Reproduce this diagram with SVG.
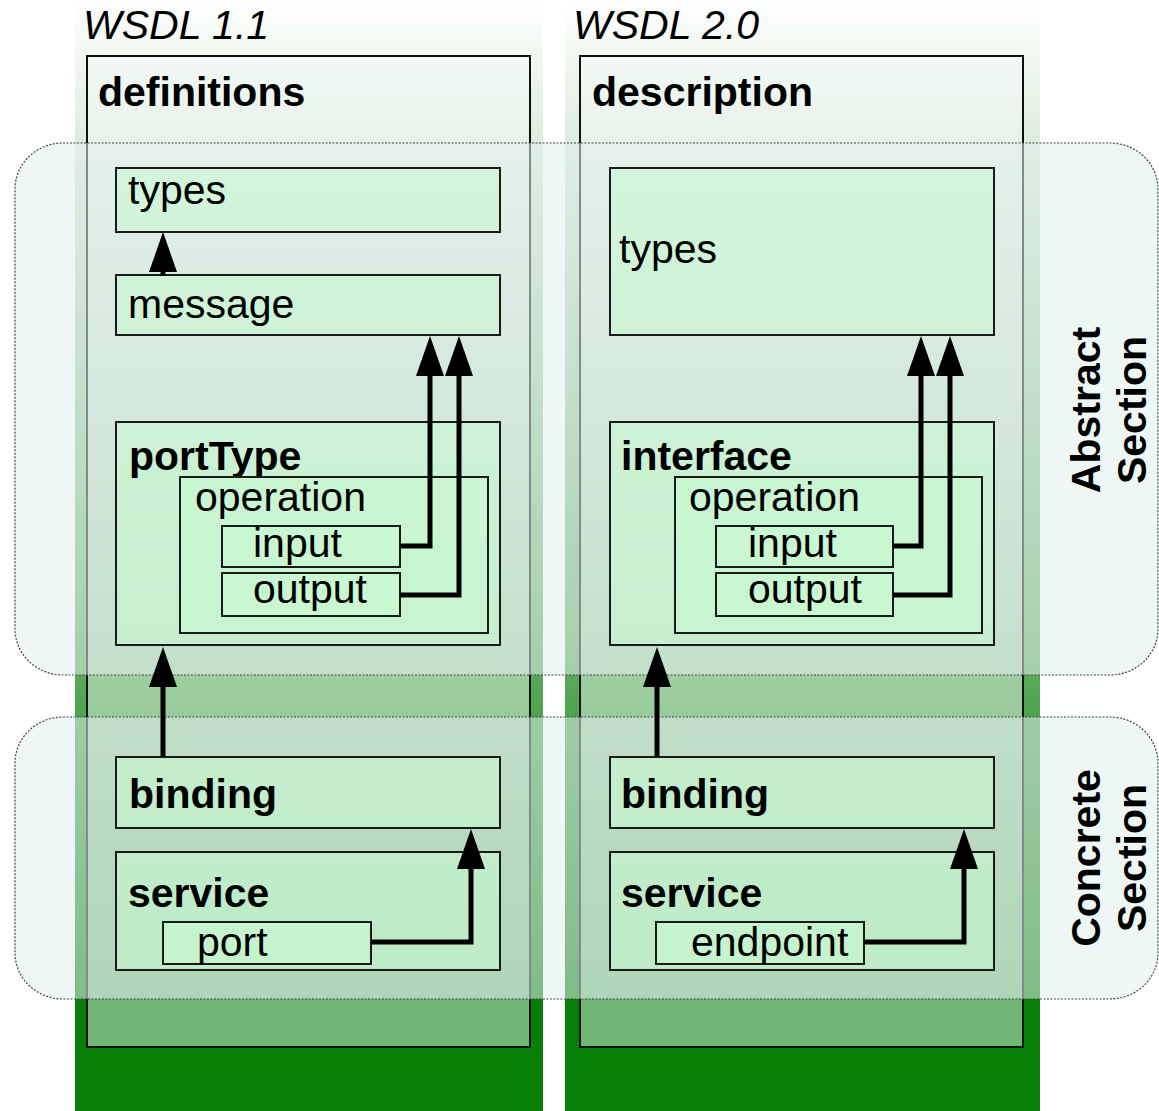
<svg xmlns="http://www.w3.org/2000/svg" width="1159" height="1111" viewBox="0 0 1159 1111">
<defs>
<linearGradient id="colg" gradientUnits="userSpaceOnUse" x1="0" y1="0" x2="0" y2="1000">
<stop offset="0" stop-color="#ffffff"/>
<stop offset="1" stop-color="#087f08"/>
</linearGradient>
<marker id="ah" markerUnits="userSpaceOnUse" markerWidth="40" markerHeight="28" viewBox="0 0 40 28" refX="0" refY="14" orient="auto">
<path d="M0,0 L40,14 L0,28 z" fill="#000"/>
</marker>
<style>
.col{fill:url(#colg);}
.outer{fill:#f4fbfb;fill-opacity:0.45;stroke:#111;stroke-width:2;}
.sec{fill:#e2eeee;fill-opacity:0.55;stroke:#444;stroke-width:1.2;stroke-dasharray:2 1.5;}
.node{fill:#c8f8d0;fill-opacity:0.6;stroke:#1a1a1a;stroke-width:2;}
.t{font-family:"Liberation Sans",Arial,sans-serif;font-size:41px;fill:#000;}
.b{font-weight:bold;}
.i{font-style:italic;}
.conn{fill:none;stroke:#000;stroke-width:5;stroke-linejoin:miter;marker-end:url(#ah);}
</style>
</defs>
<rect width="1159" height="1111" fill="#ffffff"/>
<g id="columns">
<rect class="col" x="75" y="0" width="468" height="1111"/>
<rect class="col" x="565" y="0" width="475" height="1111"/>
<rect x="75" y="1000" width="468" height="111" fill="#087f08"/>
<rect x="565" y="1000" width="475" height="111" fill="#087f08"/>
</g>
<g id="wsdl11-label"><text class="t i" x="83" y="39">WSDL 1.1</text></g>
<g id="wsdl20-label"><text class="t i" x="573" y="39">WSDL 2.0</text></g>
<g id="definitions">
<rect class="outer" x="87" y="56" width="443" height="991"/>
<text class="t b" x="98" y="106">definitions</text>
</g>
<g id="description">
<rect class="outer" x="580" y="56" width="443" height="991"/>
<text class="t b" x="592" y="106">description</text>
</g>
<g id="abstract-section">
<rect class="sec" x="15" y="143" width="1143" height="532" rx="48" ry="46"/>
<text class="t b" transform="translate(1100,410) rotate(-90)" text-anchor="middle">Abstract</text>
<text class="t b" transform="translate(1146,410) rotate(-90)" text-anchor="middle">Section</text>
</g>
<g id="concrete-section">
<rect class="sec" x="15" y="717" width="1143" height="282" rx="48" ry="46"/>
<text class="t b" transform="translate(1100,858) rotate(-90)" text-anchor="middle">Concrete</text>
<text class="t b" transform="translate(1146,858) rotate(-90)" text-anchor="middle">Section</text>
</g>
<g id="types1"><rect class="node" x="116" y="168" width="384" height="64"/><text class="t" x="128" y="204">types</text></g>
<g id="message1"><rect class="node" x="116" y="275" width="384" height="60"/><text class="t" x="128" y="318">message</text></g>
<g id="portType1"><rect class="node" x="116" y="422" width="384" height="223"/><text class="t b" x="129" y="470">portType</text></g>
<g id="operation1"><rect class="node" x="180" y="477" width="308" height="156"/><text class="t" x="195" y="511">operation</text></g>
<g id="input1"><rect class="node" x="222" y="526" width="178" height="41"/><text class="t" x="253" y="557">input</text></g>
<g id="output1"><rect class="node" x="222" y="573" width="178" height="43"/><text class="t" x="253" y="603">output</text></g>
<g id="binding1"><rect class="node" x="116" y="757" width="384" height="71"/><text class="t b" x="129" y="808">binding</text></g>
<g id="service1"><rect class="node" x="116" y="852" width="384" height="118"/><text class="t b" x="128" y="907">service</text></g>
<g id="port1"><rect class="node" x="163" y="922" width="208" height="42"/><text class="t" x="197" y="956">port</text></g>
<g id="types2"><rect class="node" x="610" y="168" width="384" height="167"/><text class="t" x="619" y="263">types</text></g>
<g id="interface2"><rect class="node" x="610" y="422" width="384" height="223"/><text class="t b" x="621" y="470">interface</text></g>
<g id="operation2"><rect class="node" x="675" y="477" width="307" height="156"/><text class="t" x="689" y="511">operation</text></g>
<g id="input2"><rect class="node" x="716" y="526" width="177" height="41"/><text class="t" x="748" y="557">input</text></g>
<g id="output2"><rect class="node" x="716" y="573" width="177" height="43"/><text class="t" x="748" y="603">output</text></g>
<g id="binding2"><rect class="node" x="610" y="757" width="384" height="71"/><text class="t b" x="621" y="808">binding</text></g>
<g id="service2"><rect class="node" x="610" y="852" width="384" height="118"/><text class="t b" x="621" y="907">service</text></g>
<g id="endpoint2"><rect class="node" x="656" y="922" width="208" height="42"/><text class="t" x="691" y="956">endpoint</text></g>
<g id="connectors">
<path class="conn" d="M163,276 V272"/>
<path class="conn" d="M400,546 H430 V376"/>
<path class="conn" d="M400,595 H459 V376"/>
<path class="conn" d="M163,757 V687"/>
<path class="conn" d="M371,942 H471 V869"/>
<path class="conn" d="M893,546 H921 V376"/>
<path class="conn" d="M893,595 H950 V376"/>
<path class="conn" d="M657,757 V687"/>
<path class="conn" d="M864,942 H964 V869"/>
</g>
</svg>
